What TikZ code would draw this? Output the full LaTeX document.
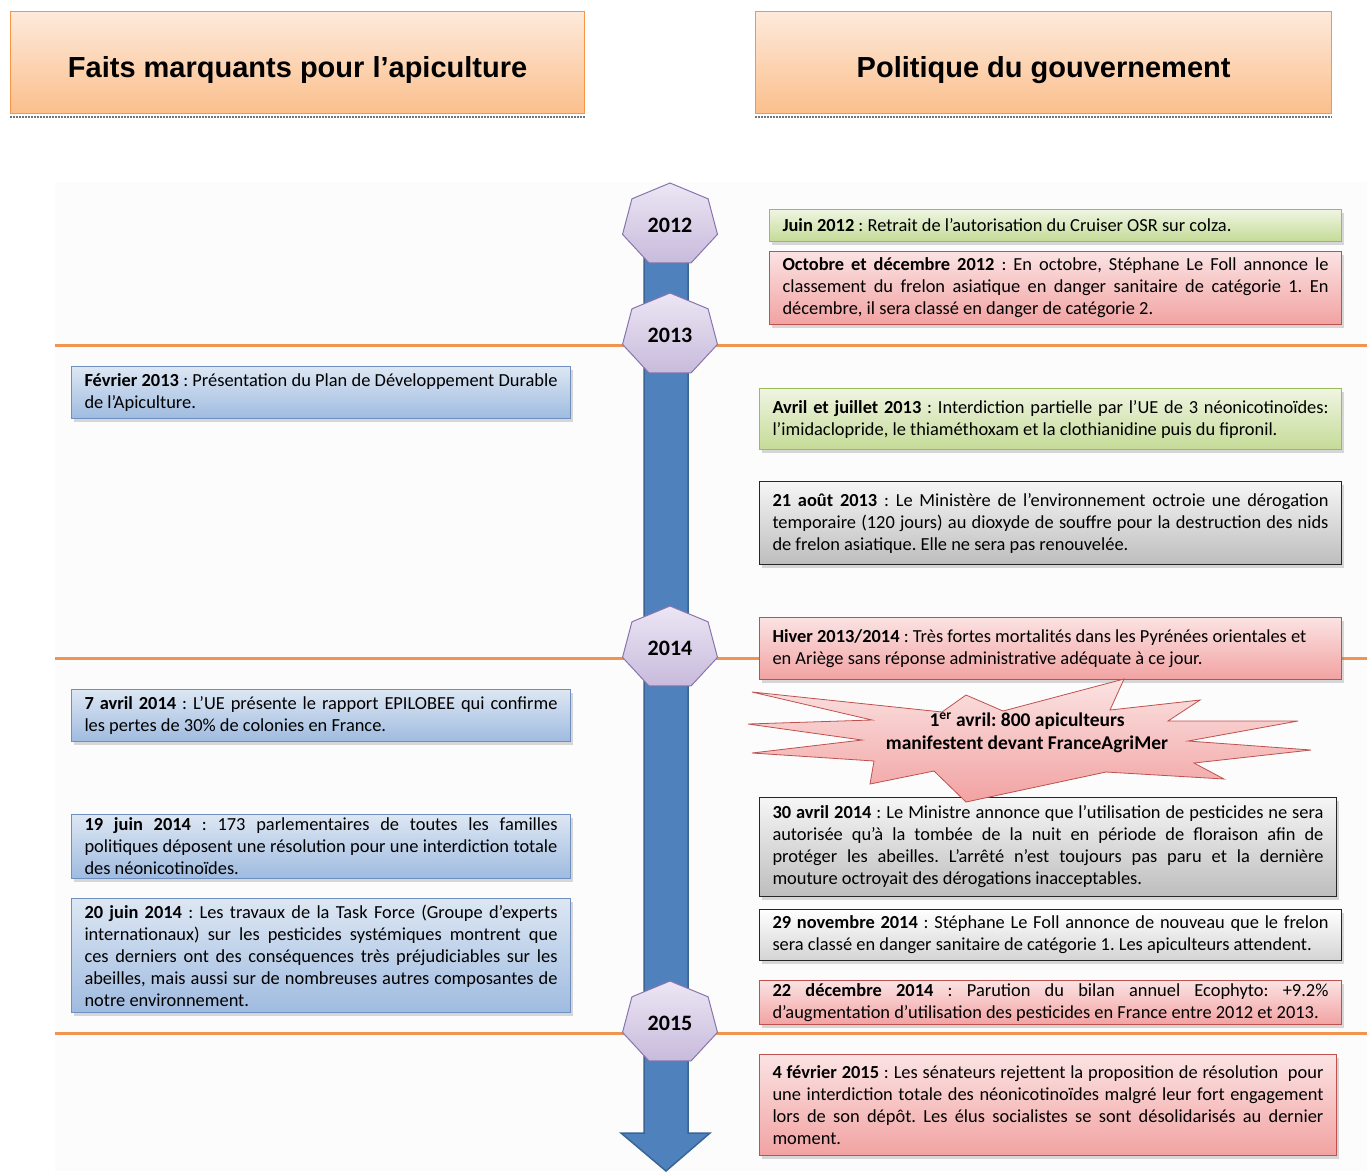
\documentclass[tikz,border=0pt]{standalone}
\usepackage{fontspec}
\setmainfont{Carlito}
\newfontfamily\headfont{Liberation Sans}
\usetikzlibrary{shadows}
\frenchspacing

\definecolor{headtop}{HTML}{FDEADB}
\definecolor{headbot}{HTML}{FBBF8C}
\definecolor{headline}{HTML}{F79646}
\definecolor{bluetop}{HTML}{DDE7F3}
\definecolor{bluebot}{HTML}{9FBBE0}
\definecolor{blueline}{HTML}{6F8FBF}
\definecolor{greentop}{HTML}{EFF5E2}
\definecolor{greenbot}{HTML}{C5DB97}
\definecolor{greenline}{HTML}{9BBB59}
\definecolor{redtop}{HTML}{FBE3E3}
\definecolor{redbot}{HTML}{F2A2A2}
\definecolor{redline}{HTML}{C0504D}
\definecolor{graytop}{HTML}{F6F6F6}
\definecolor{graybot}{HTML}{BDBDBD}
\definecolor{lavtop}{HTML}{ECE6F4}
\definecolor{lavbot}{HTML}{C8BBDC}
\definecolor{lavline}{HTML}{8A74AD}
\definecolor{tlblue}{HTML}{4F81BD}
\definecolor{tlline}{HTML}{3A6593}
\definecolor{yearorange}{HTML}{F0944F}

\newcommand{\evtfont}{\fontsize{18.4}{22}\selectfont}

\begin{document}
\begin{tikzpicture}[x=1pt, y=-1pt,
  headbox/.style={draw=headline, line width=1.2pt, top color=headtop, bottom color=headbot,
    font=\headfont\fontsize{29}{34}\selectfont\bfseries, text height=33pt, text depth=3pt,
    anchor=north west},
  evt/.style={draw, line width=1pt, align=justify, font=\evtfont, inner xsep=13pt, inner ysep=1pt,
    anchor=north west, drop shadow={shadow xshift=2pt, shadow yshift=-3pt, opacity=.3}},
  bluebox/.style={evt, draw=blueline, top color=bluetop, bottom color=bluebot},
  greenbox/.style={evt, draw=greenline, top color=greentop, bottom color=greenbot},
  redbox/.style={evt, draw=redline, top color=redtop, bottom color=redbot},
  graybox/.style={evt, draw=black!85, top color=graytop, bottom color=graybot},
  hepta/.style={draw=lavline, line width=1pt, top color=lavtop, bottom color=lavbot},
  yearlbl/.style={font=\fontsize{22}{26}\selectfont\bfseries},
  yearline/.style={draw=yearorange, line width=3pt}]

% page and light backdrop
\useasboundingbox (0,0) rectangle (1367,1171);
\fill[black!1] (55,182) rectangle (1367,1171);

% column headers
\node[headbox, minimum width=574pt, minimum height=102pt] (hapi) at (10,11) {Faits marquants pour l’apiculture};
\node[headbox, minimum width=576pt, minimum height=102pt] (hgouv) at (755,11) {Politique du gouvernement};
\draw[black!55, line width=2pt, densely dotted] ([yshift=-3pt]hapi.south west) -- ([yshift=-3pt]hapi.south east);
\draw[black!55, line width=2pt, densely dotted] ([yshift=-3pt]hgouv.south west) -- ([yshift=-3pt]hgouv.south east);

% year separators
\foreach \ly in {345, 658, 1033}
  \draw[yearline] (55,\ly) -- (1367,\ly);

% time axis
\draw[fill=tlblue, draw=tlline, line width=1.5pt] (644,250) -- (688,250) -- (688,1133) -- (710,1133)
  -- (666,1171) -- (621,1133) -- (644,1133) -- cycle;

\foreach \yr/\cy in {2012/225, 2013/335, 2014/648, 2015/1023} {
  \draw[hepta, shift={(670,\cy)}] (-90:48.7 and 42)
    \foreach \k in {1,...,6} { -- (-90+\k*360/7:48.7 and 42) } -- cycle;
  \node[yearlbl] (y\yr) at (670,\cy) {\yr};
}

% left column
\node[bluebox, text width=473pt, minimum height=52pt] (fev13) at (71,366)
  {\textbf{Février 2013} : Présentation du Plan de Développement Durable\linebreak de l’Apiculture.};
\node[bluebox, text width=473pt, minimum height=52pt] (avr14) at (71,689)
  {\textbf{7 avril 2014} : L’UE présente le rapport EPILOBEE qui confirme\linebreak les pertes de 30\% de colonies en France.};
\node[bluebox, text width=473pt, minimum height=64pt] (jun19) at (71,814)
  {\textbf{19 juin 2014} : 173 parlementaires de toutes les familles\linebreak politiques déposent une résolution pour une interdiction totale\linebreak des néonicotinoïdes.};
\node[bluebox, text width=473pt, minimum height=114pt] (jun20) at (71,898)
  {\textbf{20 juin 2014} : Les travaux de la Task Force (Groupe d’experts\linebreak internationaux) sur les pesticides systémiques montrent que\linebreak ces derniers ont des conséquences très préjudiciables sur les\linebreak abeilles, mais aussi sur de nombreuses autres composantes de\linebreak notre environnement.};

% right column
\node[greenbox, text width=546pt, minimum height=32pt] (juin12) at (769,209)
  {\textbf{Juin 2012} : Retrait de l’autorisation du Cruiser OSR sur colza.};
\node[redbox, text width=546pt, minimum height=73pt] (oct12) at (769,251)
  {\textbf{Octobre et décembre 2012} : En octobre, Stéphane Le Foll annonce le\linebreak classement du frelon asiatique en danger sanitaire de catégorie 1. En\linebreak décembre, il sera classé en danger de catégorie 2.};
\node[greenbox, text width=556pt, minimum height=61pt] (avr13) at (759,388)
  {\textbf{Avril et juillet 2013} : Interdiction partielle par l’UE de 3 néonicotinoïdes:\linebreak l’imidaclopride, le thiaméthoxam et la clothianidine puis du fipronil.};
\node[graybox, text width=556pt, minimum height=83pt] (aou13) at (759,481)
  {\textbf{21 août 2013} : Le Ministère de l’environnement octroie une dérogation\linebreak temporaire (120 jours) au dioxyde de souffre pour la destruction des nids\linebreak de frelon asiatique. Elle ne sera pas renouvelée.};
\node[redbox, text width=556pt, minimum height=62pt] (hiv13) at (759,617)
  {\textbf{Hiver 2013/2014} : Très fortes mortalités dans les Pyrénées orientales et\\en Ariège sans réponse administrative adéquate à ce jour.};

\node[graybox, text width=551pt, minimum height=99pt] (avr30) at (759,797)
  {\textbf{30 avril 2014} : Le Ministre annonce que l’utilisation de pesticides ne sera\linebreak autorisée qu’à la tombée de la nuit en période de floraison afin de\linebreak protéger les abeilles. L’arrêté n’est toujours pas paru et la dernière\linebreak mouture octroyait des dérogations inacceptables.};

% protest burst
\draw[draw=redline, line width=0.8pt, top color=redtop, bottom color=redbot]
  (752,692) -- (942,712) -- (966,695) -- (1003,711) -- (1124,679) -- (1110,710)
  -- (1200,700) -- (1168,721) -- (1298,721) -- (1188,741) -- (1311,750) -- (1194,763)
  -- (1224,779) -- (1106,772) -- (966,802) -- (934,771) -- (870,784) -- (874,761)
  -- (752,753) -- (862,740) -- (748,724) -- (872,720) -- cycle;
\node[font=\fontsize{19.5}{23}\selectfont\bfseries, align=center] (manif) at (1027,733)
  {1\textsuperscript{er} avril: 800 apiculteurs\\manifestent devant FranceAgriMer};

\node[evt, draw=black!85, top color=white, bottom color=black!17, text width=556pt, minimum height=51pt] (nov14) at (759,909)
  {\textbf{29 novembre 2014} : Stéphane Le Foll annonce de nouveau que le frelon\linebreak sera classé en danger sanitaire de catégorie 1. Les apiculteurs attendent.};
\node[redbox, text width=556pt, minimum height=44pt] (dec14) at (759,980)
  {\textbf{22 décembre 2014} : Parution du bilan annuel Ecophyto: +9.2\%\linebreak d’augmentation d’utilisation des pesticides en France entre 2012 et 2013.};
\node[redbox, text width=551pt, minimum height=101pt] (fev15) at (759,1054)
  {\textbf{4 février 2015} : Les sénateurs rejettent la proposition de résolution\ \ pour\linebreak une interdiction totale des néonicotinoïdes malgré leur fort engagement\linebreak lors de son dépôt. Les élus socialistes se sont désolidarisés au dernier\linebreak moment.};
\end{tikzpicture}
\end{document}
